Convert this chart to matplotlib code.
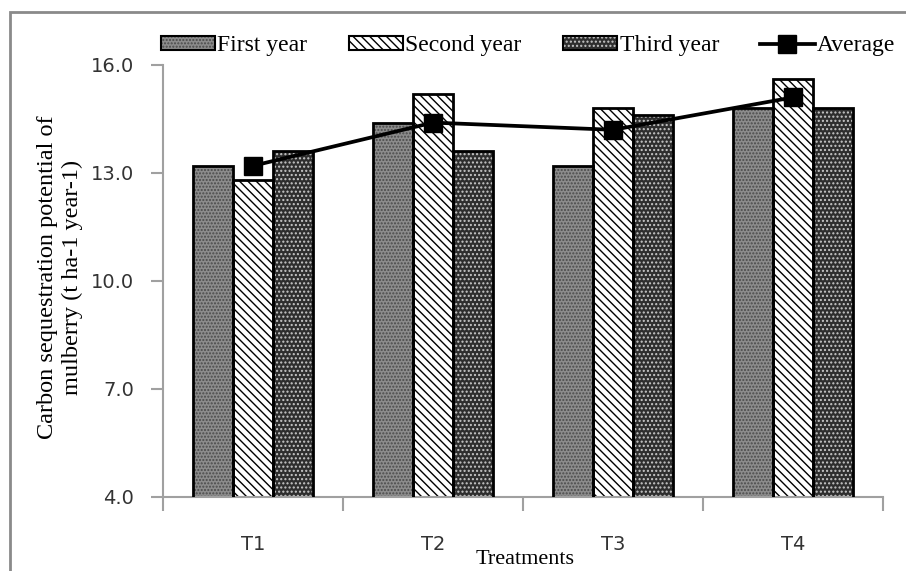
""" Carbon sequestration potential of mulberry by treatment """

import numpy as np
from matplotlib import pyplot as plt
from matplotlib.patches import Rectangle

treatments = ['T1', 'T2', 'T3', 'T4']
first_year = [13.2, 14.4, 13.2, 14.8]
second_year = [12.8, 15.2, 14.8, 15.6]
third_year = [13.6, 13.6, 14.6, 14.8]
average = [13.2, 14.4, 14.2, 15.1]
y_ticks = [4.0, 7.0, 10.0, 13.0, 16.0]

plt.rcParams['hatch.linewidth'] = 1.0

fig = plt.figure(figsize=(9.06, 5.71), dpi=100)
ax = fig.add_axes([163 / 906, 74 / 571, 720 / 906, 432 / 571])

# outer gray frame of the chart
fig.patches.append(Rectangle((10 / 906, -0.1), 1.2, (571 - 12) / 571 + 0.1,
                             transform=fig.transFigure, fill=False,
                             edgecolor='#8a8a8a', linewidth=2))

x = np.arange(len(treatments))
w = 0.222

styles = [
    (first_year, 'First year', '#8c8c8c', '#4a4a4a', '.....'),
    (second_year, 'Second year', 'white', 'black', '\\\\\\\\'),
    (third_year, 'Third year', '#2e2e2e', '#c8c8c8', '....'),
]
handles = []
for i, (vals, label, face, hatch_col, hatch) in enumerate(styles):
    pos = x + (i - 1) * w
    ax.bar(pos, vals, w, bottom=0, color=face, edgecolor=hatch_col,
           hatch=hatch, linewidth=0, zorder=2)
    ax.bar(pos, vals, w, fill=False, edgecolor='black', linewidth=2, zorder=3)
    handles.append((Rectangle((0, 0), 1, 1, facecolor=face, edgecolor=hatch_col,
                              hatch=hatch, linewidth=0),
                    Rectangle((0, 0), 1, 1, fill=False, edgecolor='black',
                              linewidth=1.5)))

line, = ax.plot(x, average, color='black', linewidth=2.7, marker='s',
                markersize=13.5, zorder=4, label='Average')

# Format plot.
ax.set_ylim(4.0, 16.0)
ax.set_xlim(-0.5, len(treatments) - 0.5)
ax.set_yticks(y_ticks)
ax.set_yticklabels([f'{v:.1f}' for v in y_ticks], fontsize=14, color='#333333')
ax.set_xticks(x)
ax.set_xticklabels(treatments, fontsize=14, color='#333333')
ax.tick_params(axis='x', which='major', length=0, pad=27)
ax.set_xticks(np.arange(-0.5, len(treatments)), minor=True)
ax.tick_params(axis='x', which='minor', length=10, color='#a0a0a0', width=1.5)
ax.tick_params(axis='y', length=9, color='#a0a0a0', width=1.5, pad=12)

for side in ['top', 'right']:
    ax.spines[side].set_visible(False)
for side in ['left', 'bottom']:
    ax.spines[side].set_color('#a0a0a0')
    ax.spines[side].set_linewidth(1.5)

labels = [s[1] for s in styles] + ['Average']
fig.legend(handles + [line], labels, loc='center', bbox_to_anchor=(528 / 906, 1 - 46 / 571),
           ncol=4, frameon=False, handlelength=2.3, handleheight=0.55,
           columnspacing=1.75, handletextpad=0.1, borderpad=0,
           prop={'family': 'Liberation Serif', 'size': 17})

fig.text(60 / 906, 1 - 277 / 571,
         'Carbon sequestration potential of\nmulberry (t ha-1 year-1)',
         rotation=90, ha='center', va='center', fontsize=17.5,
         family='Liberation Serif', linespacing=1.2)
fig.text(525 / 906, 1 - 560 / 571, 'Treatments', ha='center', va='center',
         fontsize=16, family='Liberation Serif')

fig.savefig('out.png', dpi=100)
